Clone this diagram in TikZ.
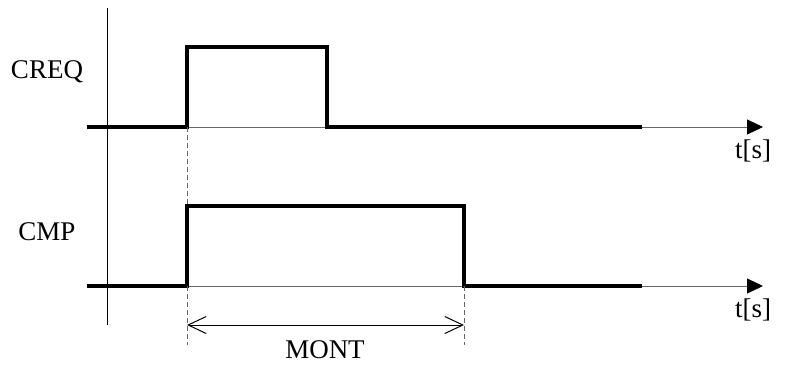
\documentclass[tikz,border=0pt]{standalone}
\usepackage{fontspec}
\setmainfont{Liberation Serif}
\usetikzlibrary{arrows.meta}
\begin{document}
\begin{tikzpicture}[x=1pt,y=-1pt,
  sig/.style={line width=4pt,line join=miter,line cap=butt},
  axisline/.style={line width=1pt,black!60,-{Triangle[length=16pt,width=15pt,black]},shorten >=-1pt},
  guide/.style={line width=1pt,black!60,dash pattern=on 5pt off 3pt},
  dim/.style={line width=1pt,{Straight Barb[length=18pt,width=17pt]}-{Straight Barb[length=18pt,width=17pt]}},
  lbl/.style={font=\fontsize{27}{32}\selectfont,inner sep=0pt}]
\useasboundingbox (0,0) rectangle (786,365);
% coordinates
\coordinate (a0) at (87,127);
\coordinate (a1) at (187,127);
\coordinate (a2) at (187,47);
\coordinate (a3) at (327,47);
\coordinate (a4) at (327,127);
\coordinate (a5) at (642,127);
\coordinate (aend) at (762,127);
\coordinate (b0) at (87,286);
\coordinate (b1) at (187,286);
\coordinate (b2) at (187,206);
\coordinate (b3) at (464,206);
\coordinate (b4) at (464,286);
\coordinate (b5) at (642,286);
\coordinate (bend) at (762,286);
\coordinate (vtop) at (107,8);
\coordinate (vbot) at (107,325);
\coordinate (d1) at (187,345);
\coordinate (d2) at (464,345);
\coordinate (m1) at (187,325);
\coordinate (m2) at (464,325);
% vertical axis
\draw[line width=1pt] (vtop) -- (vbot);
% time axes
\draw[axisline] (a0) -- (aend);
\draw[axisline] (b0) -- (bend);
% signals
\draw[sig] (a0) -- (a1) -- (a2) -- (a3) -- (a4) -- (a5);
\draw[sig] (b0) -- (b1) -- (b2) -- (b3) -- (b4) -- (b5);
% guides
\draw[guide] (a1) -- (b2);
\draw[guide] (b1) -- (d1);
\draw[guide] (b4) -- (d2);
% dimension
\draw[dim] (m1) -- (m2);
% labels
\node[lbl] (creq) at (47,72) {CREQ};
\node[lbl] (cmp) at (47,232) {CMP};
\node[lbl] (t1) at (753,151) {t[s]};
\node[lbl] (t2) at (753,310) {t[s]};
\node[lbl] (mont) at (325,350) {MONT};
\end{tikzpicture}
\end{document}
